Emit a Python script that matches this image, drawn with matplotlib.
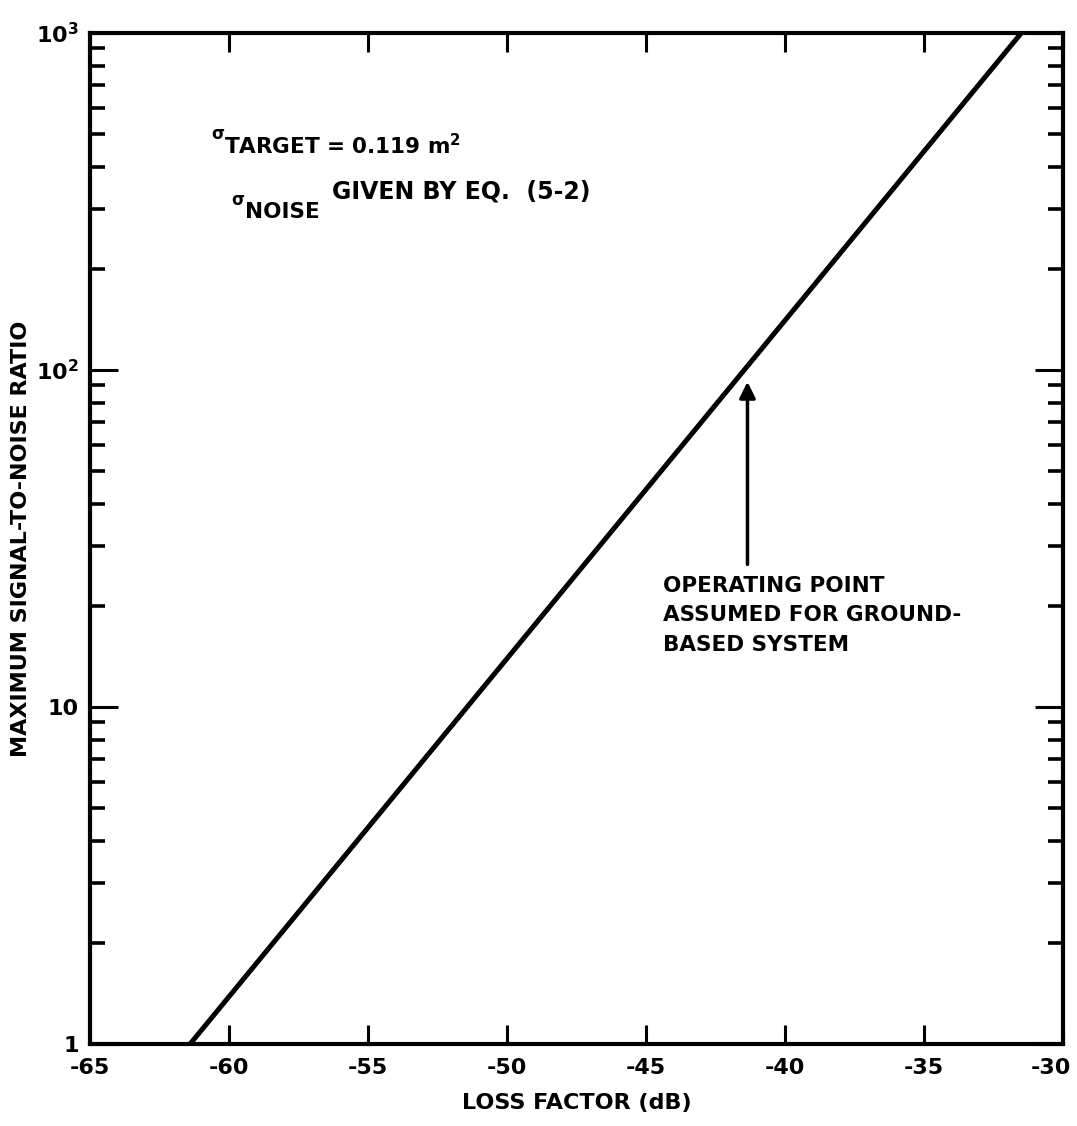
import numpy as np
import matplotlib
matplotlib.use('Agg')
import matplotlib.pyplot as plt
from matplotlib.ticker import FixedLocator, LogLocator, NullFormatter
from matplotlib.transforms import ScaledTranslation

# data: straight line on log axis
loss_db = [-61.4, -31.5]
snr_max = [1, 1000]

x_ticks = [-65, -60, -55, -50, -45, -40, -35, -30]
x_labels = ['-65', '-60', '-55', '-50', '-45', '-40', '-35', '-30']
y_ticks = [1, 10, 100, 1000]
y_labels = ['1', '10', '$\\mathbf{10^2}$', '$\\mathbf{10^3}$']

# operating point arrow (tip / tail)
op_x = -41.35
op_tip, op_tail = 94, 26

plt.rcParams['font.family'] = ['DejaVu Sans']
plt.rcParams['font.weight'] = 'bold'
plt.rcParams['mathtext.default'] = 'bf'

W, H = 1077, 1126
fig = plt.figure(figsize=(W / 100, H / 100), dpi=100)
ax = fig.add_axes([90 / W, 1 - 1044 / H, 973 / W, 1011 / H])

ax.plot(loss_db, snr_max, color='black', lw=3.6, solid_capstyle='butt')

ax.set_yscale('log')
ax.set_xlim(-65, -30)
ax.set_ylim(1, 1000)

ax.xaxis.set_major_locator(FixedLocator(x_ticks))
ax.set_xticklabels(x_labels, fontsize=16, fontweight='bold')
ax.yaxis.set_major_locator(FixedLocator(y_ticks))
ax.set_yticklabels(y_labels, fontsize=16, fontweight='bold')
ax.yaxis.set_minor_locator(LogLocator(base=10, subs=np.arange(2, 10)))
ax.yaxis.set_minor_formatter(NullFormatter())

ax.tick_params(axis='x', which='major', direction='in', length=14, width=2.2,
               top=True, bottom=True, pad=10)
ax.tick_params(axis='y', which='major', direction='in', length=20, width=2.2,
               left=True, right=True, pad=8)
ax.tick_params(axis='y', which='minor', direction='in', length=11, width=2.6,
               left=True, right=True)

# keep the last x label inside the picture, as in the original
lab = ax.get_xticklabels()[-1]
lab.set_transform(lab.get_transform() + ScaledTranslation(-0.12, 0, fig.dpi_scale_trans))

for s in ax.spines.values():
    s.set_linewidth(3)

ax.set_xlabel('LOSS FACTOR (dB)', fontsize=16, fontweight='bold', labelpad=11)
ax.set_ylabel('MAXIMUM SIGNAL-TO-NOISE RATIO', fontsize=16, fontweight='bold')
ax.yaxis.set_label_coords((31 - 90) / 973, 0.5)

def ftext(px, py, s, size, **kw):
    fig.text(px / W, 1 - py / H, s, fontsize=size, fontweight='bold', va='baseline', **kw)

ftext(211, 139, '$\\sigma$', 12)
ftext(224, 154, 'TARGET = 0.119 m$^{2}$', 15.5)
ftext(231, 205, '$\\sigma$', 12)
ftext(245, 218, 'NOISE', 15.5)
ftext(332, 199, 'GIVEN BY EQ.  (5-2)', 17)

ax.annotate('', xy=(op_x, op_tip), xytext=(op_x, op_tail),
            arrowprops=dict(arrowstyle='-|>', color='black', lw=2.5, mutation_scale=24))
ax.text(-44.4, 24.5, 'OPERATING POINT\nASSUMED FOR GROUND-\nBASED SYSTEM',
        fontsize=15.5, fontweight='bold', va='top', linespacing=1.6)

fig.savefig('out.png', dpi=100)
